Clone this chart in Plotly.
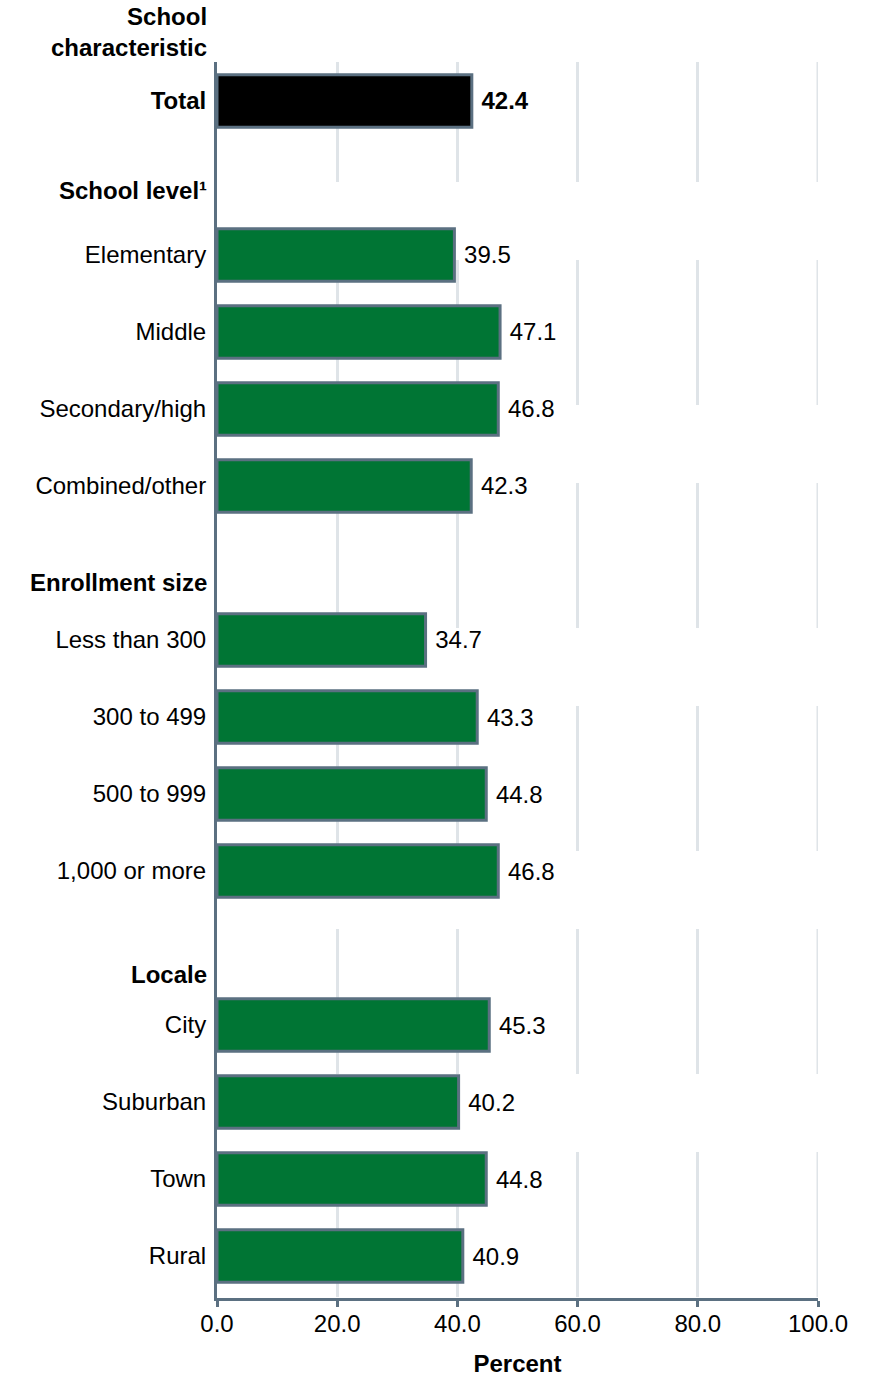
import plotly.graph_objects as go

# ---- data ----
categories = ["Total", "Elementary", "Middle", "Secondary/high", "Combined/other",
              "Less than 300", "300 to 499", "500 to 999", "1,000 or more",
              "City", "Suburban", "Town", "Rural"]
values = [42.4, 39.5, 47.1, 46.8, 42.3, 34.7, 43.3, 44.8, 46.8, 45.3, 40.2, 44.8, 40.9]
group_headers = ["School level¹", "Enrollment size", "Locale"]
x_ticks = [0, 20, 40, 60, 80, 100]
x_ticktext = ["0.0", "20.0", "40.0", "60.0", "80.0", "100.0"]

# ---- layout helpers (row slots: headers occupy empty slots) ----
row_slots = [0, 2, 3, 4, 5, 7, 8, 9, 10, 12, 13, 14, 15]
header_slots = [1.16, 6.25, 11.34]

GREEN = "#007534"
SLATE = "#5b7081"
GRID = "#dfe4e8"
FONT = "Liberation Sans, Arial, sans-serif"
FS = 24
NB = "\u00a0"

colors = ["#000000"] + [GREEN] * (len(values) - 1)
texts = [f"{NB}<b>{values[0]:.1f}</b>"] + [f"{NB}{v:.1f}" for v in values[1:]]
ticktext = ["<b>Total</b>"] + categories[1:]

dash = "120px,78px,145px,78px,145px,78px,145px,78px,145px,78px,145px,78px"

fig = go.Figure()
fig.add_trace(go.Bar(
    x=values, y=row_slots, orientation="h",
    marker=dict(color=colors, line=dict(color=SLATE, width=3)),
    width=0.68,
    text=texts, textposition="outside", textfont=dict(size=FS, color="black", family=FONT),
    cliponaxis=False, hoverinfo="skip",
))

# gridline at the end of the range (Plotly omits the edge gridline)
fig.add_shape(type="line", xref="x", yref="paper", x0=x_ticks[-1], x1=x_ticks[-1], y0=1, y1=0,
              line=dict(color=GRID, width=3, dash=dash), layer="below")

for h, s in zip(group_headers, header_slots):
    fig.add_annotation(text=f"<b>{h}</b>", xref="paper", yref="y", x=-0.013, y=s,
                       xanchor="right", yanchor="middle", showarrow=False,
                       font=dict(size=FS, color="black", family=FONT))

fig.add_annotation(text="<b>School<br>characteristic</b>", xref="paper", yref="paper",
                   x=-0.013, y=1 + 30 / 1236, xanchor="right", yanchor="middle",
                   align="right", showarrow=False,
                   font=dict(size=FS, color="black", family=FONT))

fig.update_layout(
    width=871, height=1378,
    margin=dict(l=217, r=53, t=62, b=80),
    paper_bgcolor="white", plot_bgcolor="white",
    showlegend=False,
    font=dict(family=FONT, size=FS, color="black"),
    xaxis=dict(range=[0, 100], tickvals=x_ticks, ticktext=x_ticktext,
               showgrid=True, gridcolor=GRID, gridwidth=3, griddash=dash,
               zeroline=False, showline=True, linecolor=SLATE, linewidth=3,
               ticks="outside", ticklen=6, tickwidth=3, tickcolor=SLATE,
               ticklabelstandoff=-4,
               tickfont=dict(size=FS, color="black"),
               title=dict(text="<b>Percent</b>", font=dict(size=FS, color="black"), standoff=20),
               automargin=False, fixedrange=True),
    yaxis=dict(range=[15.545, -0.506], tickvals=row_slots, ticktext=ticktext,
               showgrid=False, zeroline=False, showline=True, linecolor=SLATE, linewidth=3,
               ticks="", ticklabelstandoff=3, tickfont=dict(size=FS, color="black"),
               automargin=False, fixedrange=True),
    bargap=0.3,
)

fig.write_html("out.html")
